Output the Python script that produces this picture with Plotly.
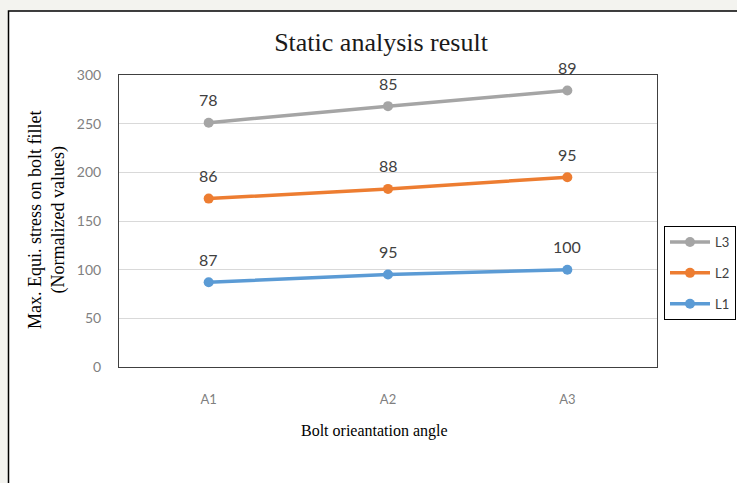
import numpy as np
import plotly.graph_objects as go

# Bolt orientation angles and normalized stress contributions per load case
angles = ["A1", "A2", "A3"]
l1_values = [87, 95, 100]
l2_values = [86, 88, 95]
l3_values = [78, 85, 89]

series = [
    ("L1", l1_values, "#5b9bd5", 3),
    ("L2", l2_values, "#ed7d31", 2),
    ("L3", l3_values, "#a5a5a5", 1),
]

LABEL_FONT = "Lato, 'Open Sans', sans-serif"
SERIF = "'Liberation Serif', 'Times New Roman', serif"

fig = go.Figure()
annotations = []

# Stacked lines: each series sits on the cumulative total of the ones below
running = np.zeros(len(angles))
for name, vals, color, rank in series:
    running = running + np.array(vals, dtype=float)
    fig.add_trace(go.Scatter(
        x=angles,
        y=running.tolist(),
        name=name,
        legendgroup=name,
        legendrank=rank,
        mode="lines+markers",
        line=dict(color=color, width=3.5),
        marker=dict(color=color, size=10),
        cliponaxis=False,
    ))
    # value labels above each point show the series' own contribution
    for a, total, v in zip(angles, running, vals):
        annotations.append(dict(
            x=a, y=float(total), xref="x", yref="y",
            text=str(v), showarrow=False,
            yshift=23, yanchor="middle",
            font=dict(family=LABEL_FONT, size=16, color="#404040"),
        ))

# axis titles
annotations.append(dict(
    text="Bolt orieantation angle", showarrow=False,
    xref="paper", yref="paper", x=(374 - 119) / 538, y=(367 - 431) / 292,
    xanchor="center", yanchor="middle",
    font=dict(family=SERIF, size=16, color="black"),
))
annotations.append(dict(
    text="Max. Equi. stress on bolt fillet<br>(Normalized values)",
    showarrow=False, textangle=-90,
    xref="paper", yref="paper", x=(47 - 119) / 538, y=(367 - 220) / 292,
    xanchor="center", yanchor="middle",
    font=dict(family=SERIF, size=18, color="black"),
))

fig.update_layout(
    width=737,
    height=483,
    margin=dict(l=119, r=80, t=75, b=116, autoexpand=False),
    paper_bgcolor="#f3f3ef",
    plot_bgcolor="white",
    showlegend=True,
    title=dict(
        text="Static analysis result",
        font=dict(family=SERIF, size=26, color="#1a1a1a"),
        x=(381 - 119) / 538, xref="paper", xanchor="center",
        y=1 - 42 / 483, yref="container", yanchor="middle",
    ),
    legend=dict(
        x=(664 - 119) / 538, xanchor="left",
        y=(367 - 226) / 292, yanchor="top",
        traceorder="grouped",
        tracegroupgap=11,
        bordercolor="black",
        borderwidth=1,
        bgcolor="white",
        font=dict(family=LABEL_FONT, size=13, color="#404040"),
        itemwidth=40,
    ),
    xaxis=dict(
        type="category",
        range=[-0.5, 2.5],
        showgrid=False,
        showline=True, linecolor="#404040", linewidth=1, mirror=True,
        ticks="",
        ticklabelstandoff=20,
        tickfont=dict(family=LABEL_FONT, size=13, color="#7f7f7f"),
    ),
    yaxis=dict(
        range=[0, 300],
        dtick=50,
        showgrid=True, gridcolor="#d9d9d9", gridwidth=1,
        zeroline=False,
        showline=True, linecolor="#404040", linewidth=1, mirror=True,
        ticks="",
        ticklabelstandoff=14,
        tickfont=dict(family=LABEL_FONT, size=14, color="#7f7f7f"),
    ),
    annotations=annotations,
    shapes=[
        # chart frame
        dict(type="rect", xref="paper", yref="paper",
             x0=(8.5 - 119) / 538, x1=1.3, y0=-0.5, y1=(367 - 11) / 292,
             line=dict(color="black", width=1.5),
             fillcolor="white", layer="below"),
    ],
)

fig.write_html("out.html")
